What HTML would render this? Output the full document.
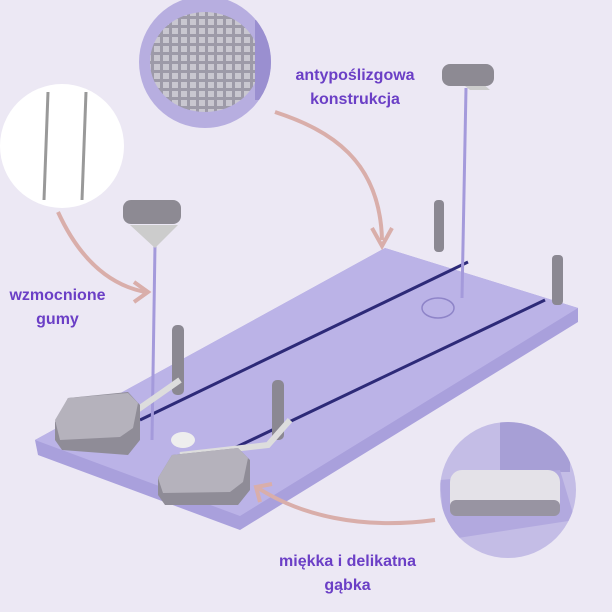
<!DOCTYPE html>
<html><head><meta charset="utf-8"><style>
html,body{margin:0;padding:0;background:#ece8f4;}
.wrap{position:relative;width:612px;height:612px;overflow:hidden;background:#ece8f4;font-family:"Liberation Sans",sans-serif;}
.t{position:absolute;color:#6b3fc6;font-weight:bold;font-size:16px;text-align:center;line-height:24px;}
</style></head><body><div class="wrap">
<svg width="612" height="612" style="position:absolute;left:0;top:0">
<defs>
<clipPath id="c1"><circle cx="205" cy="62" r="66"/></clipPath>
<clipPath id="c3"><circle cx="508" cy="490" r="68"/></clipPath>
<pattern id="dots" width="9" height="9" patternUnits="userSpaceOnUse"><rect width="9" height="9" fill="#9d9aa8"/><rect x="1" y="1" width="6" height="6" fill="#c9c7d0"/></pattern>
</defs>
<g clip-path="url(#c1)"><rect x="130" y="-10" width="150" height="150" fill="#b7aee0"/>
<ellipse cx="205" cy="62" rx="55" ry="50" fill="url(#dots)"/>
<rect x="255" y="20" width="20" height="80" fill="#9a8fd0"/></g>
<circle cx="62" cy="146" r="62" fill="#ffffff"/>
<line x1="48" y1="92" x2="44" y2="200" stroke="#999" stroke-width="3"/>
<line x1="86" y1="92" x2="82" y2="200" stroke="#999" stroke-width="3"/>
<g clip-path="url(#c3)"><rect x="435" y="420" width="150" height="140" fill="#c4bde6"/>
<rect x="500" y="422" width="70" height="50" fill="#a79fd6"/>
<path d="M440 480 L560 470 L575 520 L445 540 Z" fill="#b2a9df"/>
<rect x="450" y="470" width="110" height="45" rx="12" fill="#e4e2e8"/>
<rect x="450" y="500" width="110" height="16" rx="6" fill="#9894a2"/></g>
<path d="M35 440 L385 248 L578 308 L578 322 L240 530 L38 455 Z" fill="#a9a0dc"/>
<path d="M35 440 L385 248 L578 308 L240 516 Z" fill="#bbb3e7"/>
<line x1="140" y1="420" x2="468" y2="262" stroke="#2d2a78" stroke-width="3"/>
<line x1="205" y1="462" x2="545" y2="300" stroke="#2d2a78" stroke-width="3"/>
<ellipse cx="438" cy="308" rx="16" ry="10" fill="none" stroke="#8e84c8" stroke-width="1.5"/>
<rect x="434" y="200" width="10" height="52" rx="4" fill="#8b8892"/>
<rect x="552" y="255" width="11" height="50" rx="4" fill="#8b8892"/>
<rect x="172" y="325" width="12" height="70" rx="5" fill="#8b8892"/>
<rect x="272" y="380" width="12" height="60" rx="5" fill="#8b8892"/>
<line x1="466" y1="88" x2="462" y2="298" stroke="#a49adb" stroke-width="3"/>
<line x1="155" y1="245" x2="152" y2="440" stroke="#a49adb" stroke-width="3"/>
<path d="M445 70 L470 90 L490 90 L465 68 Z" fill="#ccc"/>
<rect x="442" y="64" width="52" height="22" rx="8" fill="#8d8a93"/>
<path d="M130 225 L155 248 L178 225 Z" fill="#ccc"/>
<rect x="123" y="200" width="58" height="24" rx="8" fill="#8d8a93"/>
<path d="M130 415 L180 380 M180 455 L268 445 L290 420" stroke="#ddd" stroke-width="6" fill="none"/>
<!-- left pad -->
<path d="M55 422 L68 398 L128 392 L140 405 L140 440 L128 455 L62 450 L55 440 Z" fill="#8f8c97"/>
<path d="M55 420 L68 398 L128 393 L138 403 L133 428 L120 437 L60 440 Z" fill="#b5b2bc"/>
<!-- right pad -->
<path d="M158 478 L172 455 L238 448 L250 460 L250 490 L238 505 L165 505 L158 495 Z" fill="#8f8c97"/>
<path d="M158 478 L172 455 L238 448 L248 458 L243 482 L230 492 L163 493 Z" fill="#b5b2bc"/>
<ellipse cx="183" cy="440" rx="12" ry="8" fill="#eee"/>
<path d="M275 112 C330 130 380 160 382 240" stroke="#d9aeaa" stroke-width="4" fill="none"/>
<path d="M372 228 L382 246 L392 228" stroke="#d9aeaa" stroke-width="4" fill="none"/>
<path d="M58 212 C80 260 110 285 145 292" stroke="#d9aeaa" stroke-width="4" fill="none"/>
<path d="M134 282 L148 292 L134 302" stroke="#d9aeaa" stroke-width="4" fill="none"/>
<path d="M435 520 C360 530 300 515 258 488" stroke="#d9aeaa" stroke-width="4" fill="none"/>
<path d="M260 502 L256 487 L272 484" stroke="#d9aeaa" stroke-width="4" fill="none"/>
</svg>
<div class="t" style="left:280px;top:64px;width:150px">antypoślizgowa<br>konstrukcja</div>
<div class="t" style="left:0px;top:284px;width:115px">wzmocnione<br>gumy</div>
<div class="t" style="left:260px;top:550px;width:175px">miękka i delikatna<br>gąbka</div>
</div></body></html>
